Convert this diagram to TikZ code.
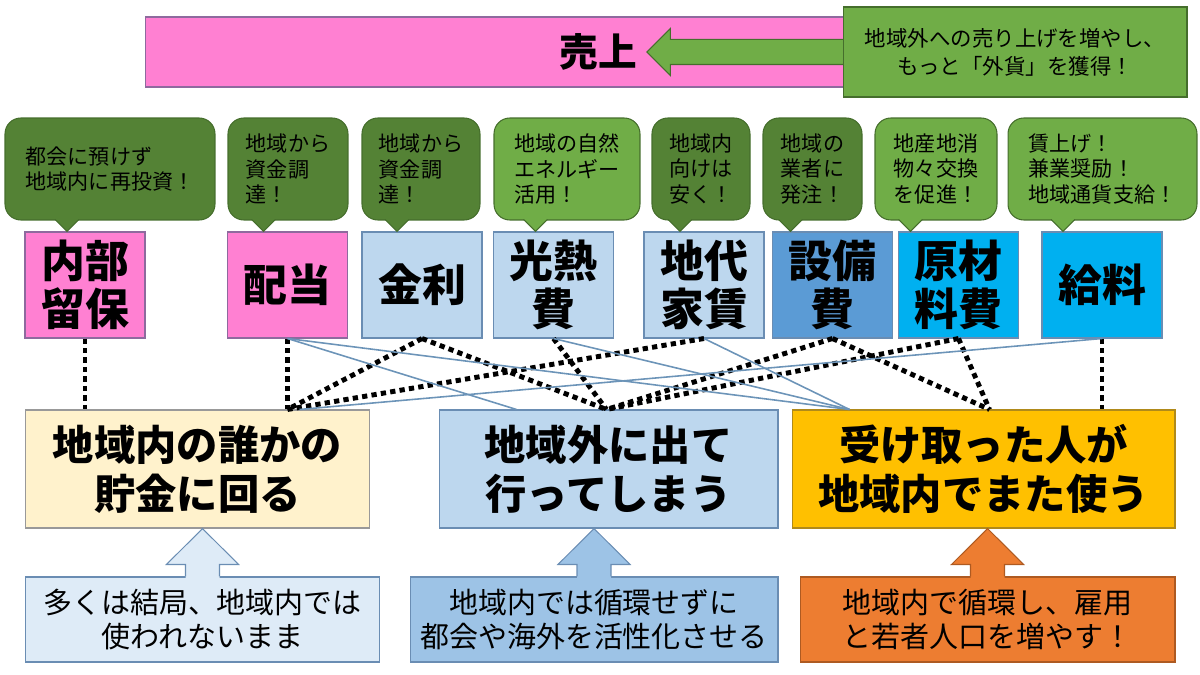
\documentclass[tikz,border=0pt]{standalone}
\usepackage{fontspec}
\newfontfamily\jp{Noto Sans CJK JP}
\usetikzlibrary{shapes.arrows,calc}

\definecolor{pinkbox}{HTML}{FF80D2}
\definecolor{pinkline}{HTML}{8E6A9E}
\definecolor{paleblue}{HTML}{BDD7EE}
\definecolor{midblue}{HTML}{5B9BD5}
\definecolor{skyblue}{HTML}{00B0F0}
\definecolor{blueline}{HTML}{6A8DB3}
\definecolor{darkgreen}{HTML}{548235}
\definecolor{litegreen}{HTML}{70AD47}
\definecolor{greenline}{HTML}{456E2C}
\definecolor{cream}{HTML}{FFF2CC}
\definecolor{gold}{HTML}{FFC000}
\definecolor{goldline}{HTML}{B08A1A}
\definecolor{icyblue}{HTML}{DEEBF7}
\definecolor{softblue}{HTML}{9DC3E6}
\definecolor{burnt}{HTML}{ED7D31}
\definecolor{burntline}{HTML}{AE5A21}
\definecolor{linkblue}{HTML}{6C94B8}

\tikzset{
  cost/.style={draw=blueline, line width=0.6pt, minimum width=2.4cm, minimum height=2.12cm,
    inner sep=0pt, align=center, font=\jp\bfseries\fontsize{25}{27.5}\selectfont},
  hint/.style={rounded corners=9pt, draw=greenline, line width=0.6pt, minimum height=2.04cm,
    inner sep=0pt, align=left, font=\jp\fontsize{12}{14.5}\selectfont},
  result/.style={line width=0.6pt, minimum height=2.36cm, inner sep=0pt, align=center,
    font=\jp\bfseries\fontsize{23.5}{28}\selectfont},
  note/.style={line width=0.6pt, minimum height=1.7cm, inner sep=0pt, align=center,
    font=\jp\fontsize{16.5}{19}\selectfont},
  dotline/.style={line width=2.8pt, dash pattern=on 3pt off 2.4pt},
  flowline/.style={linkblue, line width=0.9pt}
}

\begin{document}
\begin{tikzpicture}[x=0.02cm, y=-0.02cm]
  \useasboundingbox (0,0) rectangle (1200,675);

  % sales bar
  \node[fill=pinkbox, draw=pinkline, line width=0.6pt, minimum width=14cm, minimum height=1.4cm] (uriage) at (495,52) {};
  \node[single arrow, shape border rotate=180, fill=litegreen, draw=greenline, line width=0.6pt,
    minimum height=3.94cm, minimum width=0.92cm, single arrow head extend=0.22cm,
    single arrow tip angle=90, inner sep=0.24cm] (yajirushi) at (751.5,52) {};
  \node[fill=litegreen, draw=greenline, line width=0.6pt, minimum width=6.88cm, minimum height=1.8cm,
    align=center, font=\jp\fontsize{12.2}{16}\selectfont] (gaika) at (1015,52) {地域外への売り上げを増やし、\\もっと「外貨」を獲得！};
  \node[font=\jp\bfseries\fontsize{22}{24}\selectfont] (uriagetxt) at (598,52) {売上};

  % cost items
  \node[cost, fill=pinkbox, draw=pinkline] (naibu) at (85,285) {内部\\留保};
  \node[cost, fill=pinkbox, draw=pinkline] (haito) at (287.5,285) {配当};
  \node[cost, fill=paleblue] (kinri) at (422,285) {金利};
  \node[cost, fill=paleblue] (konetsu) at (553.5,285) {光熱\\費};
  \node[cost, fill=paleblue] (chidai) at (704,285) {地代\\家賃};
  \node[cost, fill=midblue] (setsubi) at (832.5,285) {設備\\費};
  \node[cost, fill=skyblue] (genzai) at (958.5,285) {原材\\料費};
  \node[cost, fill=skyblue] (kyuryo) at (1102,285) {給料};

  % speech bubbles
  \node[hint, fill=darkgreen, minimum width=4.2cm] (h-naibu) at (110,169) {都会に預けず\\地域内に再投資！};
  \node[hint, fill=darkgreen, minimum width=2.4cm] (h-haito) at (288,169) {地域から\\資金調\\達！};
  \node[hint, fill=darkgreen, minimum width=2.36cm] (h-kinri) at (421,169) {地域から\\資金調\\達！};
  \node[hint, fill=litegreen, minimum width=2.92cm] (h-konetsu) at (567,169) {地域の自然\\エネルギー\\活用！};
  \node[hint, fill=darkgreen, minimum width=1.96cm] (h-chidai) at (701,169) {地域内\\向けは\\安く！};
  \node[hint, fill=darkgreen, minimum width=1.98cm] (h-setsubi) at (812.5,169) {地域の\\業者に\\発注！};
  \node[hint, fill=litegreen, minimum width=2.44cm] (h-genzai) at (936,169) {地産地消\\物々交換\\を促進！};
  \node[hint, fill=litegreen, minimum width=3.78cm] (h-kyuryo) at (1102.5,169) {賃上げ！\\兼業奨励！\\地域通貨支給！};

  \foreach \cb/\dx/\col in {naibu/-18/darkgreen, haito/-24/darkgreen, kinri/-25/darkgreen,
      konetsu/-18/litegreen, chidai/-24/darkgreen, setsubi/-42/darkgreen,
      genzai/-48/litegreen, kyuryo/-39/litegreen} {
    \fill[\col] ($(\cb.north)+(\dx-14,-14)$) -- ($(\cb.north)+(\dx,0)$) -- ($(\cb.north)+(\dx+14,-14)$) -- cycle;
    \draw[greenline, line width=0.6pt] ($(\cb.north)+(\dx-12,-12)$) -- ($(\cb.north)+(\dx,0)$) -- ($(\cb.north)+(\dx+12,-12)$);
  }

  % where the money goes
  \node[result, fill=cream, draw=black!40, minimum width=6.9cm] (chokin) at (197.5,469) {地域内の誰かの\\貯金に回る};
  \node[result, fill=paleblue, draw=blueline, minimum width=6.78cm] (soto) at (608.5,469) {地域外に出て\\行ってしまう};
  \node[result, fill=gold, draw=goldline, minimum width=7.66cm] (junkan) at (983.5,469) {受け取った人が\\地域内でまた使う};

  % notes
  \node[note, fill=icyblue, draw=blueline, minimum width=7.1cm] (kekkyoku) at (202.5,619.5) {多くは結局、地域内では\\使われないまま};
  \node[note, fill=softblue, draw=blueline, minimum width=7.36cm] (kasseika) at (594,619.5) {地域内では循環せずに\\都会や海外を活性化させる};
  \node[note, fill=burnt, draw=burntline, minimum width=7.5cm] (koyo) at (987.5,619.5) {地域内で循環し、雇用\\と若者人口を増やす！};

  \foreach \n/\r/\col/\ln in {kekkyoku/chokin/icyblue/blueline, kasseika/soto/softblue/blueline, koyo/junkan/burnt/burntline} {
    \fill[\col] ($(\n.north)+(-17,2)$) -- ($(\n.north)+(-17,-12)$) -- ($(\n.north)+(-36,-12)$) -- (\n.north |- \r.south)
      -- ($(\n.north)+(36,-12)$) -- ($(\n.north)+(17,-12)$) -- ($(\n.north)+(17,2)$) -- cycle;
    \draw[\ln, line width=0.6pt] ($(\n.north)+(-17,0)$) -- ($(\n.north)+(-17,-12)$) -- ($(\n.north)+(-36,-12)$) -- (\n.north |- \r.south)
      -- ($(\n.north)+(36,-12)$) -- ($(\n.north)+(17,-12)$) -- ($(\n.north)+(17,0)$);
  }

  % connectors
  \coordinate (a-dot) at (haito.south |- chokin.north);
  \coordinate (a-ln) at ($(chokin.north west)+(275,0)$);
  \coordinate (b-dot) at ($(soto.north west)+(168,0)$);
  \coordinate (b-ln) at ($(soto.north west)+(78,0)$);
  \coordinate (c-dot) at ($(junkan.north west)+(198,0)$);
  \coordinate (c-ln) at ($(junkan.north west)+(58,0)$);

  \draw[dotline] (naibu.south) -- (naibu.south |- chokin.north);
  \draw[dotline] (haito.south) -- (a-dot);
  \draw[dotline] (kinri.south) -- (a-dot);
  \draw[dotline] (chidai.south) -- (a-dot);
  \draw[dotline] (kinri.south) -- (b-dot);
  \draw[dotline] (konetsu.south) -- (b-dot);
  \draw[dotline] (setsubi.south) -- (b-dot);
  \draw[dotline] (genzai.south) -- (b-dot);
  \draw[dotline] (setsubi.south) -- (c-dot);
  \draw[dotline] (genzai.south) -- (c-dot);
  \draw[dotline] (kyuryo.south) -- (kyuryo.south |- junkan.north);

  \draw[flowline] (haito.south) -- (b-ln);
  \draw[flowline] (haito.south) -- (c-ln);
  \draw[flowline] (kyuryo.south) -- (a-ln);
  \draw[flowline] (konetsu.south) -- (c-ln);
  \draw[flowline] (chidai.south) -- (c-ln);
\end{tikzpicture}
\end{document}
